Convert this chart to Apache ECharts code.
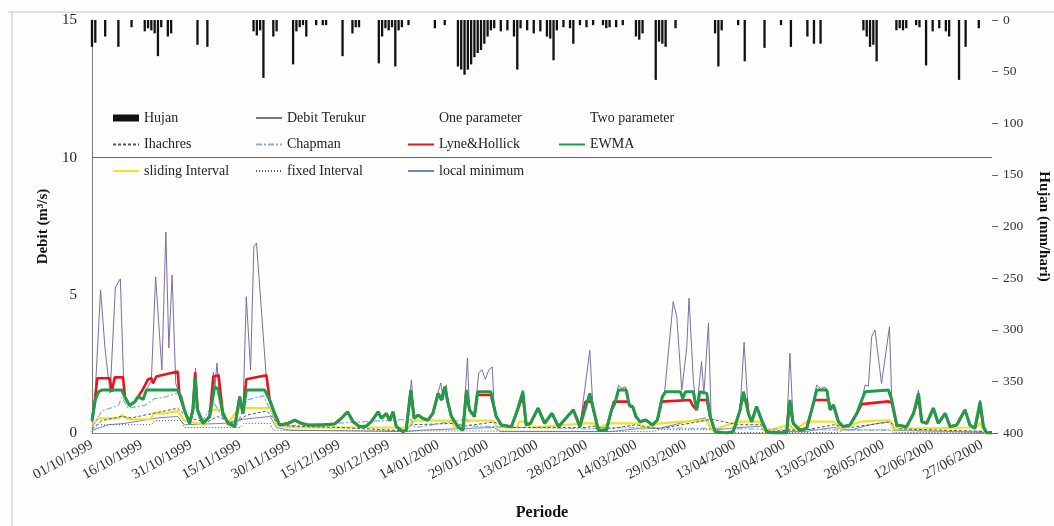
<!DOCTYPE html>
<html>
<head>
<meta charset="utf-8">
<script src="https://cdn.jsdelivr.net/npm/echarts@6/dist/echarts.min.js"></script>
<style>
html,body{margin:0;padding:0;background:#fdfdfb;}
#chart{width:1054px;height:526px;}
</style>
</head>
<body>
<div id="chart"></div>
<script>
// x axis tick labels (every 15 days from 01/10/1999; day index 0..273)
const tickLabels = ['01/10/1999','16/10/1999','31/10/1999','15/11/1999','30/11/1999','15/12/1999','30/12/1999','14/01/2000','29/01/2000','13/02/2000','28/02/2000','14/03/2000','29/03/2000','13/04/2000','28/04/2000','13/05/2000','28/05/2000','12/06/2000','27/06/2000'];

// Hujan (mm/hari): [day index, mm]
const hujan = [[0,26],[1,22],[4,16],[8,26],[12,7],[16,11],[17,8],[18,10],[19,13],[20,35],[21,7],[23,16],[24,13],[32,24],[35,26],[49,11],[50,15],[51,10],[52,56],[55,16],[56,11],[61,43],[62,11],[63,7],[64,5],[65,16],[68,5],[70,5],[71,5],[76,35],[79,13],[80,7],[81,7],[87,42],[88,16],[89,8],[90,10],[91,7],[92,45],[93,10],[94,7],[96,5],[104,8],[107,5],[111,45],[112,48],[113,53],[114,48],[115,43],[116,36],[117,32],[118,29],[119,23],[120,16],[121,10],[122,8],[124,11],[126,10],[128,16],[129,48],[130,8],[132,10],[134,13],[136,11],[138,16],[139,18],[140,39],[141,10],[143,7],[145,8],[146,23],[148,5],[150,7],[152,5],[155,5],[156,8],[157,7],[159,7],[161,5],[165,16],[166,19],[167,13],[171,58],[172,21],[173,23],[174,26],[177,8],[189,13],[190,45],[191,10],[196,5],[198,40],[204,27],[209,5],[212,26],[217,16],[219,23],[221,23],[234,10],[235,16],[236,26],[237,24],[238,40],[244,10],[245,8],[246,10],[247,8],[250,5],[251,7],[253,44],[255,11],[257,8],[259,11],[260,16],[263,58],[265,26],[269,8]];

// Debit Terukur (m3/s)
const debitTerukur = [[0,0.4],[1,1.5],[2.6,5.2],[4,3.0],[5.5,1.45],[7.1,5.3],[8.6,5.6],[9.7,1.45],[11.4,1.0],[13,1.14],[14,1.32],[15.5,1.22],[16.5,1.56],[18,1.9],[19.3,5.67],[21.2,2.29],[22.4,7.3],[23.3,3.09],[24.3,5.74],[25.4,1.8],[27,1.3],[28,0.84],[29.6,0.35],[30.6,0.84],[31.4,2.36],[32,0.84],[33.7,0.35],[35.7,0.6],[36.8,2.2],[37.3,1.7],[37.9,2.54],[38.5,1.6],[39.7,0.71],[41.3,0.35],[43.3,0.23],[44.8,1.32],[45.8,0.8],[46.8,4.95],[48.1,2.29],[49.1,6.77],[49.9,6.9],[53,1.8],[53.9,1.2],[55.4,0.71],[56.9,0.29],[59.5,0.35],[61.5,0.47],[63.5,0.35],[65.5,0.29],[69.6,0.29],[73.6,0.33],[75.6,0.53],[77.5,0.77],[79.2,0.41],[81.2,0.23],[83.2,0.25],[84.7,0.41],[86.8,0.77],[87.8,0.53],[89.3,0.71],[90.3,0.45],[91.3,0.77],[92.3,0.23],[94.3,0.05],[95.3,0.11],[96.9,1.93],[97.7,0.53],[98.9,0.65],[100.4,0.53],[101.9,0.47],[103.4,0.71],[105,1.5],[105.8,1.82],[106.5,1.2],[107.5,1.75],[108,1.08],[109,0.6],[111,0.23],[112.5,0.1],[113.9,2.73],[114.5,0.84],[116,0.6],[117.3,2.18],[118.3,2.3],[119.3,1.95],[120.4,2.3],[121.4,2.4],[122,0.9],[122.6,0.6],[124.2,0.29],[127.2,0.23],[128.7,0.71],[130.7,1.56],[131.7,0.29],[133,0.35],[135.3,0.9],[137.3,0.35],[139.5,0.71],[141.5,0.23],[146,0.84],[148,0.23],[151,3.0],[152,0.8],[153.6,0.1],[156,0.1],[157.6,0.84],[158.6,1.08],[159.7,1.74],[160.7,1.62],[161.7,1.68],[162.5,1.5],[163,1.0],[164,0.96],[165,0.6],[166.2,0.41],[168,0.47],[170,0.29],[171.5,0.47],[173,1.32],[173.7,1.5],[176.3,4.77],[177.4,4.2],[178.9,1.56],[180.4,3.1],[181.1,4.9],[182.4,1.9],[183.4,0.84],[184.9,2.6],[185.6,1.4],[187,4.0],[187.8,0.6],[189,0.05],[192.5,0],[194.5,0.05],[196.6,0.84],[197.8,3.3],[199.1,0.71],[200.1,0.41],[201.6,0.96],[203.1,0.47],[204.7,0.05],[206.7,0],[210.7,0],[211.7,2.9],[212.7,0.35],[214.8,0.1],[216.8,0.17],[218.3,0.84],[219.8,1.74],[221,1.62],[222.4,1.66],[223.2,1.5],[223.9,0.84],[224.9,1.02],[226.4,0.41],[227.9,0.23],[229.9,0.29],[232,0.71],[233.5,1.2],[234.5,1.74],[235.5,1.7],[236.5,3.5],[237.5,3.74],[239.5,1.8],[241.9,3.86],[242.6,1.2],[244.1,0.29],[247.1,0.23],[249.2,0.71],[250.7,1.56],[251.7,0.41],[253.2,0.35],[255.2,0.9],[256.7,0.35],[258.8,0.71],[260.3,0.23],[262.3,0.29],[264.8,0.84],[266.3,0.29],[267.8,0.17],[269.4,1.2],[270.4,0.23],[271.4,0],[273,0]];

// Lyne&Hollick (one parameter)
const lyneHollick = [[0,0.45],[1,1.3],[1.6,1.99],[5.4,1.99],[6,1.5],[6.9,2.02],[9.4,2.02],[10,1.3],[11.4,1.0],[13,1.14],[14,1.32],[15.5,1.6],[17,1.95],[18,1.99],[18.5,1.8],[19.5,2.05],[26,2.23],[26.5,1.4],[28,0.84],[29.6,0.35],[30.6,0.84],[31.3,2.2],[32,0.84],[33.7,0.35],[35.7,0.6],[36.8,2.05],[38.4,2.1],[39.7,0.71],[41.3,0.35],[43.3,0.23],[44.8,1.32],[45.8,0.71],[46.8,1.95],[52.9,2.1],[53.9,1.2],[55.4,0.71],[56.9,0.29],[59.5,0.35],[61.5,0.47],[63.5,0.35],[65.5,0.29],[69.6,0.29],[73.6,0.33],[75.6,0.53],[77.5,0.77],[79.2,0.41],[81.2,0.23],[83.2,0.25],[84.7,0.41],[86.8,0.77],[87.8,0.53],[89.3,0.71],[90.3,0.45],[91.3,0.77],[92.3,0.23],[94.3,0.05],[95.3,0.11],[96.7,1.56],[97.7,0.53],[98.9,0.65],[100.4,0.53],[101.9,0.47],[103.4,0.71],[105,1.44],[106,1.2],[107,1.68],[108,1.08],[109,0.6],[111,0.23],[112.5,0.1],[113.6,1.56],[114.5,0.84],[116,0.6],[116.8,1.38],[121,1.38],[122.6,0.6],[124.2,0.29],[127.2,0.23],[128.7,0.71],[130.7,1.35],[131.7,0.29],[133,0.35],[135.3,0.9],[137.3,0.35],[139.5,0.71],[141.5,0.23],[146,0.84],[148,0.23],[149.7,1.14],[151.5,1.14],[153.6,0.1],[156,0.1],[157.6,0.84],[158.3,1.14],[162.7,1.14],[163.3,0.96],[164,0.96],[165,0.6],[166.2,0.41],[168,0.47],[170,0.29],[171.5,0.47],[172.8,1.14],[181.4,1.2],[182.2,1.0],[183.4,0.84],[184,1.2],[186.5,1.2],[187.5,0.6],[189,0.05],[192.5,0],[194.5,0.05],[196.6,0.84],[197,1.2],[198.6,1.2],[199.1,0.71],[200.1,0.41],[201.6,0.96],[203.1,0.47],[204.7,0.05],[206.7,0],[210.7,0],[211.5,1.1],[212.7,0.35],[214.8,0.1],[216.8,0.17],[218.3,0.84],[219.2,1.2],[223.4,1.2],[223.9,0.84],[224.9,1.02],[226.4,0.41],[227.9,0.23],[229.9,0.29],[232,0.71],[233.5,1.05],[241.6,1.15],[242.6,1.1],[244.1,0.29],[247.1,0.23],[249.2,0.71],[250.7,1.3],[251.7,0.41],[253.2,0.35],[255.2,0.9],[256.7,0.35],[258.8,0.71],[260.3,0.23],[262.3,0.29],[264.8,0.84],[266.3,0.29],[267.8,0.17],[269.4,1.0],[270.4,0.23],[271.4,0],[273,0]];

// EWMA (two parameter)
const ewma = [[0,0.45],[1,1.2],[2,1.5],[3,1.56],[9,1.56],[10,1.3],[11.4,1.0],[13,1.14],[14,1.32],[15.5,1.22],[16.5,1.56],[26,1.56],[27,1.3],[28,0.84],[29.6,0.35],[30.6,0.84],[31.3,2.0],[32,0.84],[33.7,0.35],[35.7,0.6],[37.2,1.68],[38.2,1.6],[39.7,0.71],[41.3,0.35],[43.3,0.23],[44.8,1.32],[45.8,0.71],[46.8,1.56],[52.4,1.56],[53.9,1.2],[55.4,0.71],[56.9,0.29],[59.5,0.35],[61.5,0.47],[63.5,0.35],[65.5,0.29],[69.6,0.29],[73.6,0.33],[75.6,0.53],[77.5,0.77],[79.2,0.41],[81.2,0.23],[83.2,0.25],[84.7,0.41],[86.8,0.77],[87.8,0.53],[89.3,0.71],[90.3,0.45],[91.3,0.77],[92.3,0.23],[94.3,0.05],[95.3,0.11],[96.7,1.56],[97.7,0.53],[98.9,0.65],[100.4,0.53],[101.9,0.47],[103.4,0.71],[105,1.44],[106,1.2],[107,1.68],[108,1.08],[109,0.6],[111,0.23],[112.5,0.1],[113.6,1.56],[114.5,0.84],[116,0.6],[117,1.5],[121,1.5],[122.6,0.6],[124.2,0.29],[127.2,0.23],[128.7,0.71],[130.7,1.5],[131.7,0.29],[133,0.35],[135.3,0.9],[137.3,0.35],[139.5,0.71],[141.5,0.23],[146,0.84],[148,0.23],[151,1.44],[153.6,0.1],[156,0.1],[157.6,0.84],[158.6,1.08],[159.7,1.56],[162,1.56],[163,1.0],[164,0.96],[165,0.6],[166.2,0.41],[168,0.47],[170,0.29],[171.5,0.47],[173,1.32],[174,1.5],[178.5,1.5],[179.2,1.25],[180,1.5],[182.4,1.5],[183.4,0.84],[184.4,1.5],[186.5,1.44],[187.5,0.6],[189,0.05],[192.5,0],[194.5,0.05],[196.6,0.84],[197.6,1.5],[199.1,0.71],[200.1,0.41],[201.6,0.96],[203.1,0.47],[204.7,0.05],[206.7,0],[210.7,0],[211.7,1.2],[212.7,0.35],[214.8,0.1],[216.8,0.17],[218.3,0.84],[219.8,1.56],[222.9,1.56],[223.9,0.84],[224.9,1.02],[226.4,0.41],[227.9,0.23],[229.9,0.29],[232,0.71],[233.5,1.2],[234.5,1.5],[241.6,1.56],[242.6,1.2],[244.1,0.29],[247.1,0.23],[249.2,0.71],[250.7,1.44],[251.7,0.41],[253.2,0.35],[255.2,0.9],[256.7,0.35],[258.8,0.71],[260.3,0.23],[262.3,0.29],[264.8,0.84],[266.3,0.29],[267.8,0.17],[269.4,1.14],[270.4,0.23],[271.4,0],[273,0]];

// Ihachres
const ihachres = [[0,0.15],[3,0.45],[9,0.6],[12,0.55],[18,0.7],[26,0.9],[29,0.55],[31,0.5],[35,0.4],[38,0.6],[43,0.35],[47,0.65],[53,0.8],[56,0.4],[60,0.25],[75,0.2],[95,0.08],[97,0.3],[110,0.35],[113,0.25],[122,0.4],[126,0.2],[150,0.2],[152,0.25],[157,0.15],[165,0.3],[172,0.15],[188,0.5],[196,0.3],[203,0.3],[205,0.05],[211,0.1],[216,0.1],[225,0.3],[230,0.2],[242,0.4],[245,0.15],[273,0.05]];

// Chapman
const chapman = [[0,0.2],[3,0.8],[8,1.0],[9,1.3],[11,0.9],[16,1.0],[19,1.25],[22,1.3],[26,1.45],[28,0.8],[30,0.4],[31.3,1.0],[33,0.35],[37,1.1],[40,0.5],[44,0.3],[47,1.2],[52,1.35],[55,0.6],[58,0.25],[96.7,0.5],[98,0.2],[113.6,0.5],[115,0.25],[150,0.15],[160,0.2],[273,0.05]];

// sliding Interval
const slidingInterval = [[0,0.3],[2,0.53],[8,0.53],[9,0.65],[11,0.5],[18,0.5],[18.5,0.71],[22,0.71],[26,0.8],[28,0.45],[34,0.3],[36.5,0.84],[39.7,0.84],[41,0.3],[44.5,0.9],[54.5,0.9],[56,0.3],[60,0.2],[96,0.2],[97.4,0.45],[109,0.45],[110,0.2],[113.8,0.45],[121.6,0.45],[123,0.2],[129,0.2],[129.5,0.41],[132,0.41],[133,0.2],[150,0.35],[152.6,0.35],[153,0.15],[157,0.35],[166,0.35],[167,0.15],[171.8,0.35],[186.5,0.47],[188,0.1],[195.6,0.41],[202.6,0.41],[204,0.05],[211.5,0.3],[213,0.1],[216.8,0.41],[225,0.41],[227,0.15],[233,0.41],[242,0.47],[243,0.15],[268,0.2],[269.4,0.35],[271,0],[273,0]];

// fixed Interval
const fixedInterval = [[0,0.05],[2,0.3],[18,0.3],[19,0.45],[27,0.45],[28,0.2],[45,0.2],[46,0.35],[54,0.35],[55,0.1],[170,0.05],[172,0.12],[188,0.12],[189,0.02],[226,0.02],[228,0.12],[242,0.12],[243,0.02],[273,0.02]];

// local minimum
const localMinimum = [[0,0.1],[5,0.3],[10,0.35],[20,0.55],[26,0.6],[28,0.3],[40,0.35],[46,0.5],[54,0.6],[56,0.2],[60,0.1],[95,0.05],[100,0.1],[110,0.15],[122,0.2],[124,0.05],[157,0.05],[165,0.15],[172,0.17],[180,0.4],[186,0.55],[188,0.1],[196,0.2],[204,0.25],[205,0.05],[216,0.05],[225,0.2],[230,0.1],[236,0.3],[242,0.42],[244,0.1],[273,0.02]];

const FONT = 'Liberation Serif';
const chart = echarts.init(document.getElementById('chart'), null, {renderer:'canvas'});

function lineSeries(name, data, color, width, type, z) {
  return {name, type:'line', data, symbol:'none', showSymbol:false, z,
    lineStyle:{color, width, type}, itemStyle:{color}, silent:true};
}

const legText = {fontFamily:FONT, fontSize:14, color:'#222'};
const legBase = {orient:'vertical', itemGap:12.5, itemWidth:26, itemHeight:14, top:106,
  textStyle:legText, selectedMode:false, itemStyle:{opacity:0}};

chart.setOption({
  animation:false,
  backgroundColor:'#fdfdfb',
  grid:{left:92, right:62, top:20, bottom:93, outerBoundsMode:'none', containLabel:false},
  legend:[
    Object.assign({}, legBase, {left:107, data:[{name:'Hujan', icon:'path://M0,0H26V7H0Z', itemStyle:{opacity:1, color:'#111'}}, 'Ihachres', 'sliding Interval']}),
    Object.assign({}, legBase, {left:250, data:['Debit Terukur', 'Chapman', 'fixed Interval']}),
    Object.assign({}, legBase, {left:402, data:[{name:'One parameter', icon:'none'}, 'Lyne&Hollick', 'local minimum']}),
    Object.assign({}, legBase, {left:553, data:[{name:'Two parameter', icon:'none'}, 'EWMA']})
  ],
  xAxis:{
    type:'value', min:0, max:273, interval:15,
    name:'Periode', nameLocation:'middle', nameGap:72,
    nameTextStyle:{fontFamily:FONT, fontSize:16, fontWeight:'bold', color:'#111'},
    axisLine:{show:true, lineStyle:{color:'#888', width:1}},
    axisTick:{show:false},
    splitLine:{show:false},
    axisLabel:{rotate:29, margin:11, fontFamily:FONT, fontSize:14.5, color:'#333',
      formatter:function(v){ const i = v/15; return Number.isInteger(i) && tickLabels[i] ? tickLabels[i] : ''; }}
  },
  yAxis:[
    {type:'value', min:0, max:15, interval:5,
     name:'Debit (m³/s)', nameLocation:'middle', nameGap:37, nameRotate:90,
     nameTextStyle:{fontFamily:FONT, fontSize:15, fontWeight:'bold', color:'#111'},
     axisLine:{show:true, lineStyle:{color:'#777', width:1}},
     axisTick:{show:false}, splitLine:{show:false},
     axisLabel:{margin:15, fontFamily:FONT, fontSize:15, color:'#222'}},
    {type:'value', min:0, max:400, interval:50, inverse:true, position:'right',
     name:'Hujan (mm/hari)', nameLocation:'middle', nameGap:44, nameRotate:-90,
     nameTextStyle:{fontFamily:FONT, fontSize:15, fontWeight:'bold', color:'#111'},
     axisLine:{show:false},
     axisTick:{show:true, length:6, lineStyle:{color:'#666'}}, splitLine:{show:false},
     axisLabel:{margin:11, fontFamily:FONT, fontSize:13.5, color:'#333'}}
  ],
  graphic:[
    {type:'line', shape:{x1:8, y1:12, x2:1054, y2:12}, style:{stroke:'#c4c4c4', lineWidth:1}, silent:true},
    {type:'line', shape:{x1:12, y1:12, x2:12, y2:526}, style:{stroke:'#c4c4c4', lineWidth:1}, silent:true}
  ],
  series:[
    {name:'Hujan', type:'bar', yAxisIndex:1, data:hujan, barWidth:2.3, z:1, silent:true,
     itemStyle:{color:'#111'}},
    lineSeries('local minimum', localMinimum, '#7088b8', 1, 'solid', 2),
    lineSeries('fixed Interval', fixedInterval, '#555', 1, [1,2], 2),
    lineSeries('sliding Interval', slidingInterval, '#eee225', 2.2, 'solid', 2),
    lineSeries('Chapman', chapman, '#8aaed8', 1.2, [6,2,2,2], 2),
    lineSeries('Ihachres', ihachres, '#555566', 1, [3,2], 2),
    Object.assign(lineSeries('Debit Terukur', debitTerukur, '#7a6fa6', 1, 'solid', 3), {
      markLine:{silent:true, symbol:'none', label:{show:false},
        lineStyle:{color:'#666', width:1, type:'solid'}, data:[{yAxis:10}]}
    }),
    lineSeries('Lyne&Hollick', lyneHollick, '#e8151c', 2.6, 'solid', 4),
    lineSeries('EWMA', ewma, '#1f9b4c', 3, 'solid', 5),
    {name:'One parameter', type:'line', data:[], symbol:'none'},
    {name:'Two parameter', type:'line', data:[], symbol:'none'}
  ]
});
</script>
</body>
</html>
